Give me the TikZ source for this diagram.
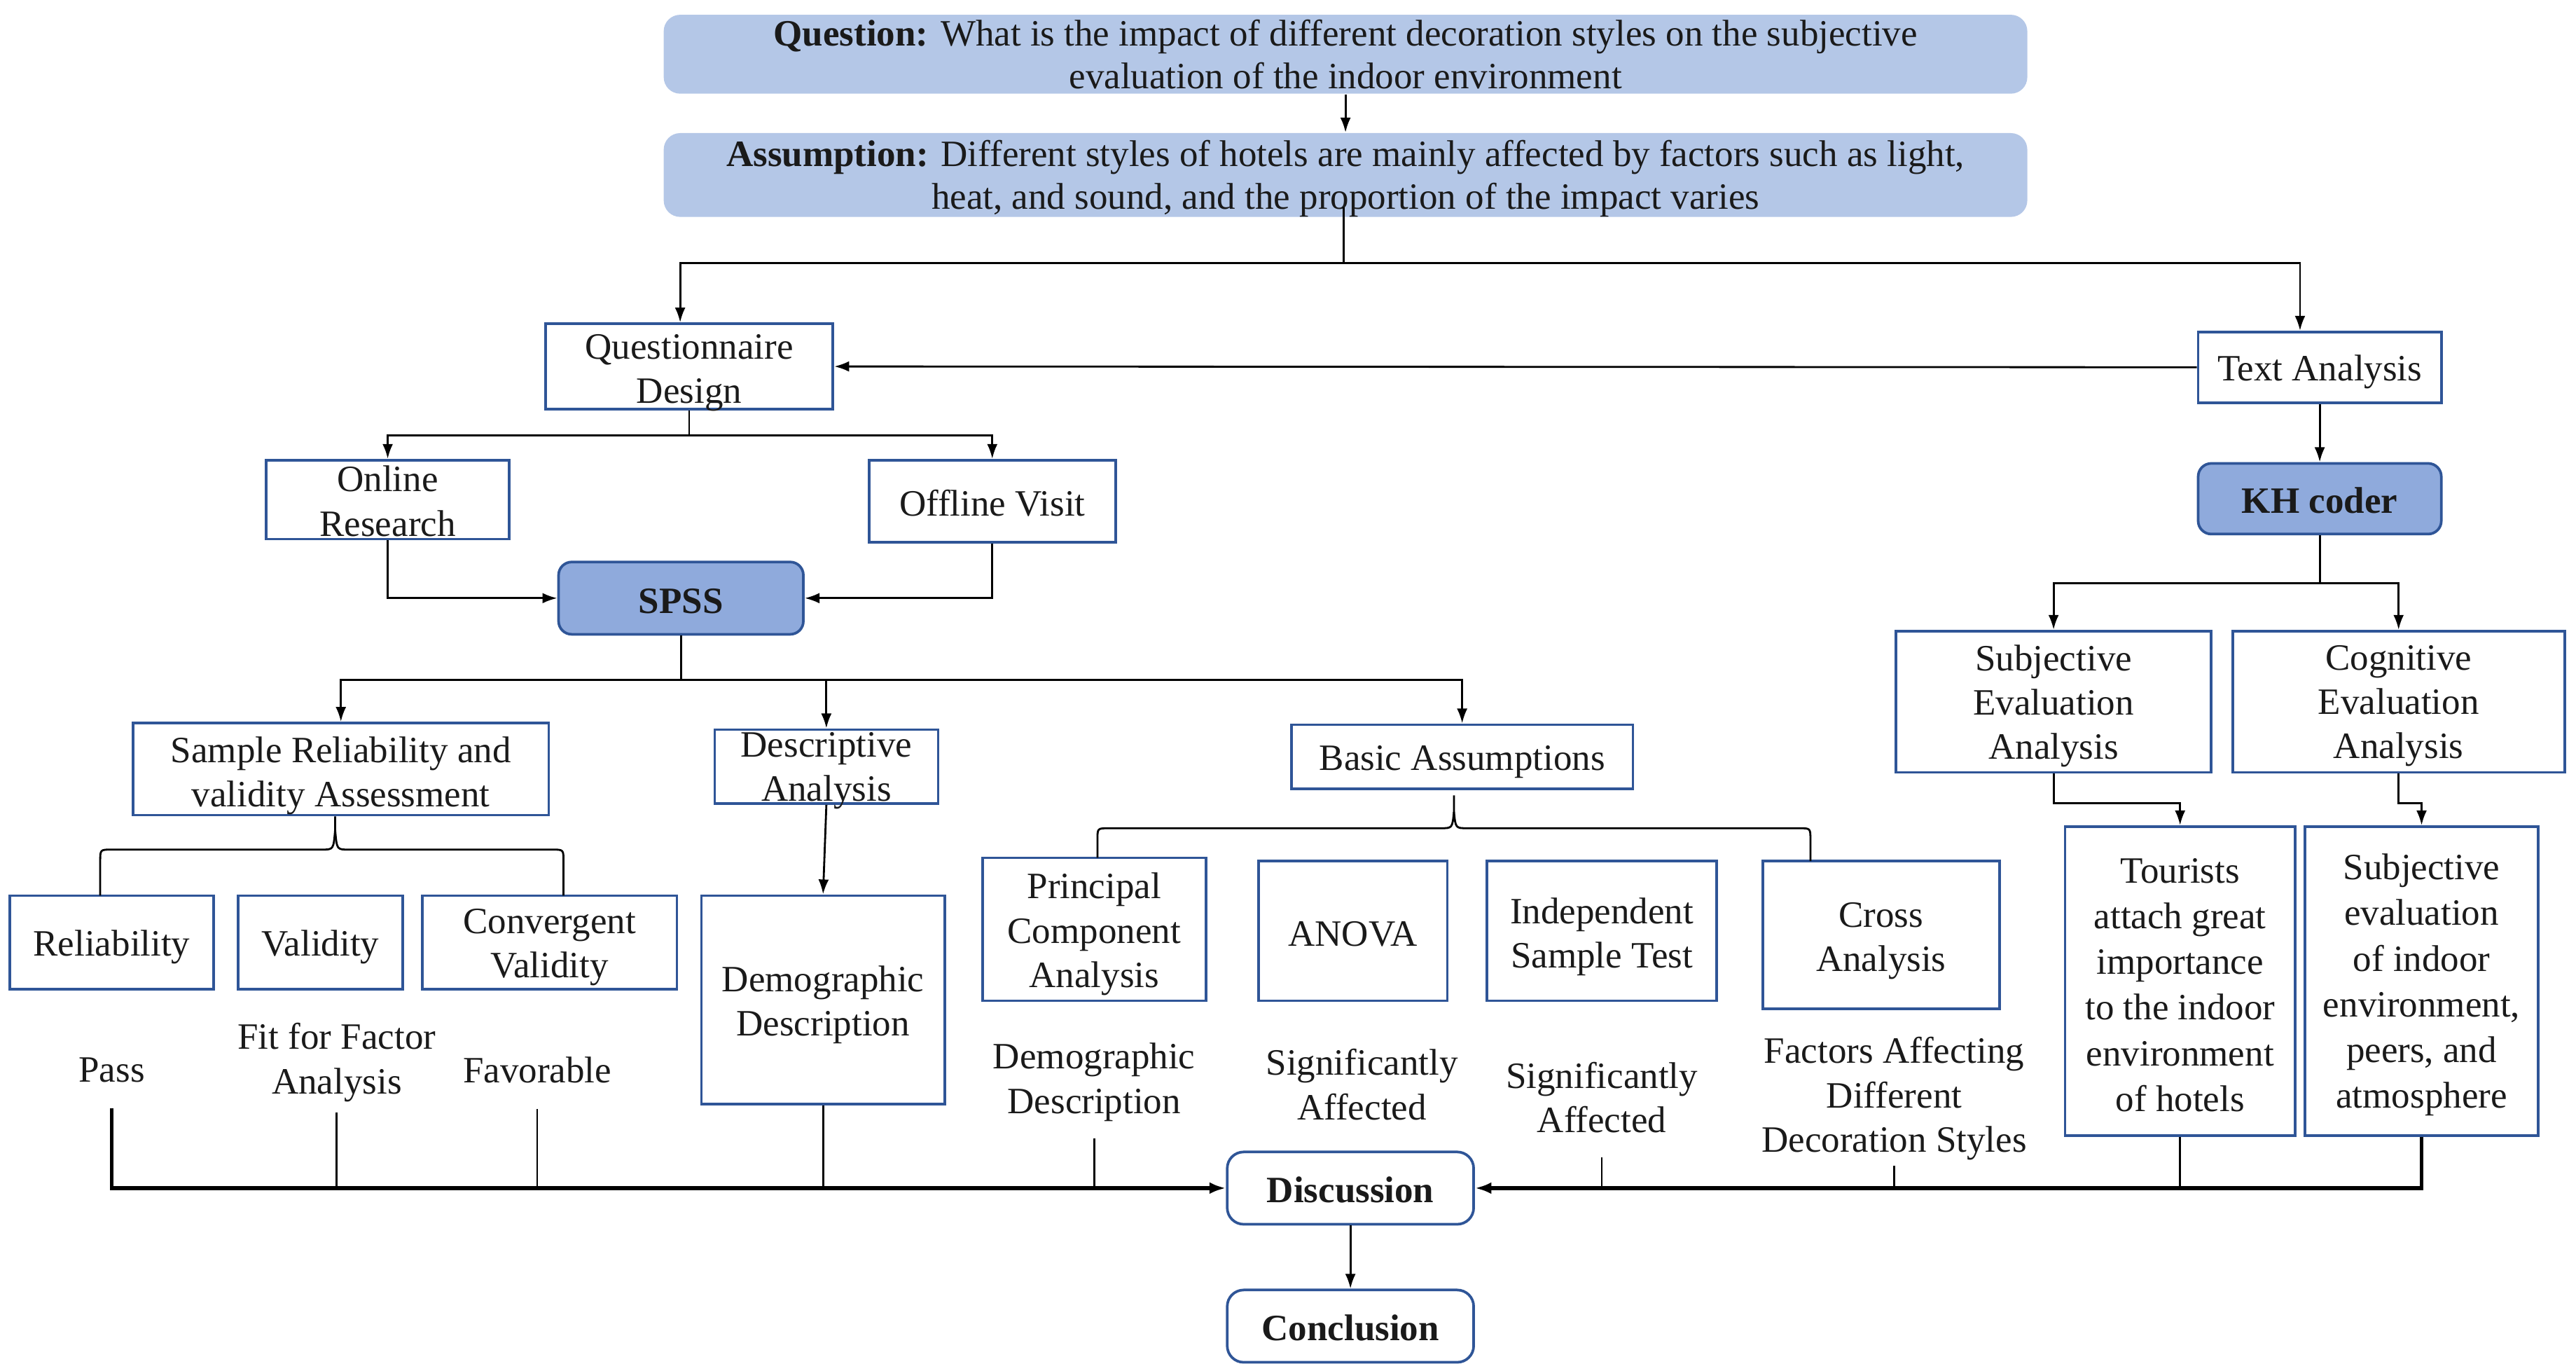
\documentclass[tikz,border=0pt]{standalone}
\usepackage{fontspec}
\setmainfont{Liberation Serif}
\usetikzlibrary{arrows.meta,calc}
\definecolor{bblue}{HTML}{2F5597}
\definecolor{lblue}{HTML}{B4C7E7}
\definecolor{mblue}{HTML}{8FAADC}
\definecolor{txt}{HTML}{1A1A1A}
\newcommand\fs{\fontsize{11.3}{13.5}\selectfont}
\newcommand\fst{\fontsize{11.3}{13}\selectfont}
\newcommand\fsw{\fontsize{11.3}{13.9}\selectfont}
% #1 text shift, #2 style, #3 name, #4-#7 corners (x1,y1,x2,y2), #8 text
\newcommand\mybox[8][1.5pt]{%
  \node[#2, minimum width={0.5pt*(#6-#4)}, minimum height={0.5pt*(#7-#5)}] (#3) at ({(#4+#6)/2},{(#5+#7)/2}) {};
  \node[#2, draw=none, fill=none, minimum width=0pt, minimum height=0pt] (#3-t) at ([yshift=-#1]#3.center) {#8};}
\tikzset{
  bx/.style={draw=bblue, line width=0.8pt, fill=white, inner sep=0pt, align=center, font=\fs, text=txt},
  rbx/.style={bx, rounded corners=4pt, fill=mblue, font=\fs\bfseries},
  wbx/.style={bx, rounded corners=5pt, font=\fs\bfseries},
  tbx/.style={fill=lblue, draw=none, rounded corners=5pt, inner sep=0pt, align=center, font=\fst, text=txt},
  lbl/.style={inner sep=0pt, align=center, font=\fs, text=txt},
  ln/.style={line width=0.6pt},
  arr/.style={-{Latex[length=4.5pt,width=3.2pt]}, line width=0.6pt},
  thk/.style={-{Latex[length=5pt,width=3.6pt]}, line width=1.1pt}
}
\begin{document}
\begin{tikzpicture}[x=0.5pt,y=-0.5pt]
\fill[white] (0,0) rectangle (1568,834);
\useasboundingbox (0,0) rectangle (1568,834);

% top boxes
\mybox[0pt]{tbx}{q}{404}{9}{1234}{57}{\textbf{Question:} What is the impact of different decoration styles on the subjective\\evaluation of the indoor environment}
\mybox[1.2pt]{tbx}{a}{404}{81}{1234}{132}{\textbf{Assumption:} Different styles of hotels are mainly affected by factors such as light,\\heat, and sound, and the proportion of the impact varies}

% second level
\mybox[2pt]{bx}{qd}{332}{197}{507}{249}{Questionnaire\\Design}
\mybox{bx}{ta}{1338}{202}{1486}{245}{Text Analysis}
\mybox[0.5pt]{bx}{on}{162}{280}{310}{328}{Online\\Research}
\mybox[0.5pt]{bx}{off}{529}{280}{679}{330}{Offline Visit}
\mybox[1pt]{rbx}{spss}{340}{342}{489}{386}{SPSS}
\mybox[0.5pt]{rbx}{kh}{1338}{282}{1486}{325}{KH coder}

% analysis boxes
\mybox[2pt]{bx}{sra}{81}{440}{334}{496}{Sample Reliability and\\validity Assessment}
\mybox[1.2pt]{bx}{desc}{435}{444}{571}{489}{Descriptive\\Analysis}
\mybox{bx}{ba}{786}{441}{994}{480}{Basic Assumptions}
\mybox[1.3pt]{bx}{se}{1154}{384}{1346}{470}{Subjective\\Evaluation\\Analysis}
\mybox[1.3pt]{bx}{ce}{1359}{384}{1561}{470}{Cognitive\\Evaluation\\Analysis}

% leaf boxes
\mybox{bx}{rely}{6}{545}{130}{602}{Reliability}
\mybox{bx}{val}{145}{545}{245}{602}{Validity}
\mybox{bx}{cv}{257}{545}{412}{602}{Convergent\\Validity}
\mybox{bx}{dd}{427}{545}{575}{672}{Demographic\\Description}
\mybox{bx}{pca}{598}{522}{734}{609}{Principal\\Component\\Analysis}
\mybox[1pt]{bx}{anova}{766}{524}{881}{609}{ANOVA}
\mybox[1.8pt]{bx}{ist}{905}{524}{1045}{609}{Independent\\Sample Test}
\mybox[1.8pt]{bx}{cross}{1073}{524}{1217}{614}{Cross\\Analysis}
\mybox[1.2pt]{bx,font=\fsw}{tour}{1257}{503}{1397}{691}{Tourists\\attach great\\importance\\to the indoor\\environment\\of hotels}
\mybox[1.2pt]{bx,font=\fsw}{se2}{1403}{503}{1545}{691}{Subjective\\evaluation\\of indoor\\environment,\\peers, and\\atmosphere}

% labels
\node[lbl] (pass) at (68,651) {Pass};
\node[lbl] (fit) at (205,646.5) {Fit for Factor\\Analysis};
\node[lbl] (fav) at (327,651) {Favorable};
\node[lbl] (dlbl) at (666,658.5) {Demographic\\Description};
\node[lbl] (sig1) at (829,660) {Significantly\\Affected};
\node[lbl] (sig2) at (975,668) {Significantly\\Affected};
\node[lbl] (fac) at (1153,668.5) {Factors Affecting\\Different\\Decoration Styles};

% discussion / conclusion
\mybox[0.5pt]{wbx}{disc}{747}{701}{897}{745}{Discussion}
\mybox[0.5pt]{wbx}{conc}{747}{785}{897}{829}{Conclusion}

% connectors
\draw[arr] (q.south) -- (a.north);
\coordinate (asplit) at (818,160);
\draw[ln] ([xshift=-0.5pt,yshift=3pt]a.south) -- (asplit);
\draw[arr] (asplit) -| ([xshift=-2.75pt]qd.north);
\draw[arr] (asplit) -| ([xshift=-6pt]ta.north);
\draw[arr] (ta.west) -- (qd.east);

\draw[arr] (qd.south) -- ++(0,15) -| (on.north);
\draw[arr] (qd.south) ++(0,15) -| (off.north);
\draw[arr] (on.south) |- (spss.west);
\draw[arr] (off.south) |- (spss.east);

\draw[arr] (spss.south) -- ++(0,27) -| (sra.north);
\draw[arr] (spss.south) ++(0,27) -| (desc.north);
\draw[arr] (spss.south) ++(0,27) -| (ba.north);

\draw[arr] (ta.south) -- (kh.north);
\draw[arr] (kh.south) -- ++(0,29) -| (se.north);
\draw[arr] (kh.south) ++(0,29) -| (ce.north);
\draw[arr] (se.south) -- ++(0,18) -| (tour.north);
\draw[arr] (ce.south) -- ++(0,18) -| (se2.north);

\draw[arr] (desc.south) -- (dd.north);

% braces
\coordinate (bl1) at (61,545);
\coordinate (bl2) at (343,545);
\draw[ln] (bl1) -- (61,524) .. controls (61,517) .. (68,517) -- (196,517) .. controls (203,517) .. (204,505) -- ([xshift=-1.75pt]sra.south);
\draw[ln] (bl2) -- (343,524) .. controls (343,517) .. (336,517) -- (212,517) .. controls (205,517) .. (204,505);
\coordinate (bb1) at (668,522);
\coordinate (bb2) at (1102,524);
\draw[ln] (bb1) -- (668,511) .. controls (668,504) .. (675,504) -- (877,504) .. controls (884,504) .. (885,494) -- (885,484);
\draw[ln] (bb2) -- (1102,511) .. controls (1102,504) .. (1095,504) -- (893,504) .. controls (886,504) .. (885,494);

% into discussion (left)
\draw[thk] (pass.south) ++(0,15.5) |- (disc.west);
\draw[ln] (fit.south) ++(0,6) -- (fit.south |- disc.west);
\draw[ln] (fav.south) ++(0,15.5) -- (fav.south |- disc.west);
\draw[ln] (dd.south) -- (dd.south |- disc.west);
\draw[ln] (dlbl.south) ++(0,10) -- (dlbl.south |- disc.west);
% into discussion (right)
\draw[thk] (se2.south) |- (disc.east);
\draw[ln] (tour.south) -- (tour.south |- disc.east);
\draw[ln] (fac.south) ++(0,3) -- (fac.south |- disc.east);
\draw[ln] (sig2.south) ++(0,14.5) -- (sig2.south |- disc.east);

\draw[arr] (disc.south) -- (conc.north);
\end{tikzpicture}
\end{document}
